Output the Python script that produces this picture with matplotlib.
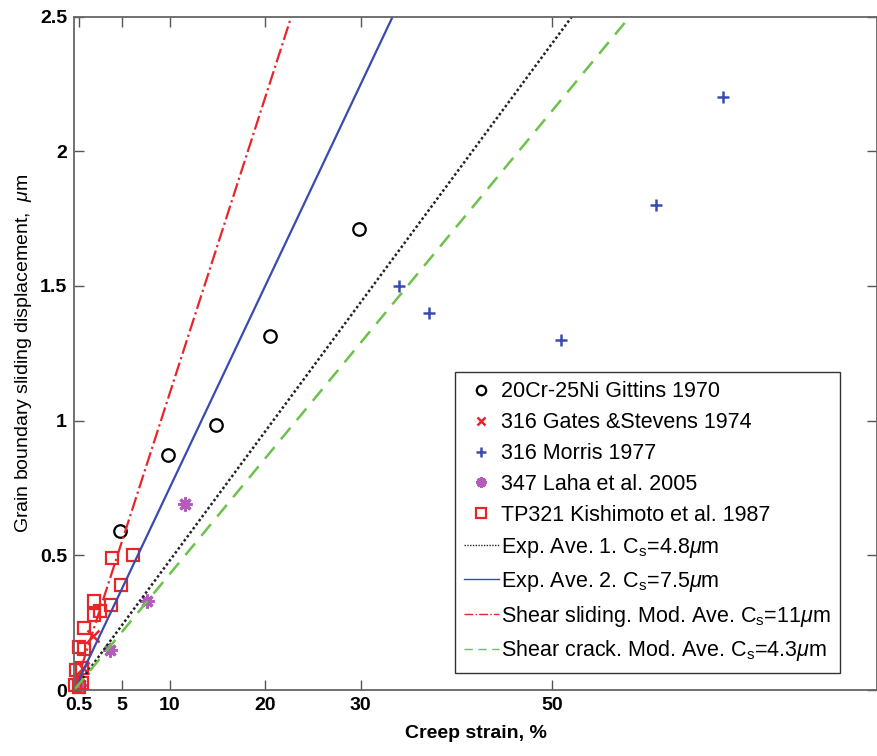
import numpy as np
import matplotlib.pyplot as plt

plt.rcParams['font.family'] = ['Liberation Sans', 'DejaVu Sans']
plt.rcParams['mathtext.fontset'] = 'custom'
plt.rcParams['mathtext.rm'] = 'Liberation Sans'
plt.rcParams['mathtext.it'] = 'Liberation Sans:italic'

# data (creep strain %, displacement um)
gittins_x = [4.84, 9.86, 14.9, 20.5, 29.8]
gittins_y = [0.59, 0.873, 0.984, 1.314, 1.712]

gates_x = [2.0, 0.9, 0.4]
gates_y = [0.2, 0.08, 0.02]

morris_x = [34.0, 37.1, 50.9, 60.9, 67.9, 0.5]
morris_y = [1.5, 1.4, 1.3, 1.8, 2.2, 0.03]

laha_x = [11.6, 7.6, 3.8, 0.6]
laha_y = [0.69, 0.33, 0.148, 0.02]

kishi_x = [4.0, 6.2, 4.9, 3.9, 2.1, 2.1, 2.7, 1.0, 0.55, 1.0, 0.25, 0.8, 0.15, 0.5, 0.85]
kishi_y = [0.49, 0.5, 0.39, 0.315, 0.33, 0.28, 0.295, 0.229, 0.161, 0.151, 0.074, 0.082, 0.019, 0.012, 0.026]

# model / average lines: slope = Cs/100
cs_exp1 = 4.8
cs_exp2 = 7.5
cs_shear_slide = 11
cs_shear_crack = 4.3
line_x = np.array([0, 84])

xticks = [0.5, 5, 10, 20, 30, 50]
xtick_labels = ['0.5', '5', '10', '20', '30', '50']
yticks = [0, 0.5, 1, 1.5, 2, 2.5]
ytick_labels = ['0', '0.5', '1', '1.5', '2', '2.5']

red = '#e8262a'
blue = '#3a4bb0'
magenta = '#b45cbc'
green = '#6cc24a'

fig = plt.figure(figsize=(8.78, 7.56), dpi=100)
ax = fig.add_axes([0.0843, 0.0873, 0.9146, 0.8907])

ms = 9
ax.plot(gittins_x, gittins_y, 'o', mfc='none', mec='black', ms=ms, mew=1.6,
        label='20Cr-25Ni Gittins 1970', clip_on=False)
ax.plot(gates_x, gates_y, 'x', color=red, ms=8, mew=1.8,
        label='316 Gates &Stevens 1974', clip_on=False)
ax.plot(morris_x, morris_y, '+', color=blue, ms=9, mew=1.8,
        label='316 Morris 1977', clip_on=False)
ax.plot(laha_x, laha_y, marker=(8, 2, 0), ls='none', color=magenta, ms=10, mew=2.2,
        label='347 Laha et al. 2005', clip_on=False)
ax.plot(kishi_x, kishi_y, 's', mfc='none', mec=red, ms=ms, mew=1.6,
        label='TP321 Kishimoto et al. 1987', clip_on=False)

ax.plot(line_x, cs_exp1 * line_x / 100, color='#222222', lw=1.8,
        dashes=(1, 1), label=r'Exp. Ave. 1. C$_\mathrm{s}$=4.8$\mu$m')
ax.plot(line_x, cs_exp2 * line_x / 100, '-', color=blue, lw=1.6,
        label=r'Exp. Ave. 2. C$_\mathrm{s}$=7.5$\mu$m')
ax.plot(line_x, cs_shear_slide * line_x / 100, '-.', color=red, lw=1.6,
        label=r'Shear sliding. Mod. Ave. C$_\mathrm{s}$=11$\mu$m')
ax.plot(line_x, cs_shear_crack * line_x / 100, '--', color=green, lw=1.8,
        dashes=(6, 4), label=r'Shear crack. Mod. Ave. C$_\mathrm{s}$=4.3$\mu$m')

ax.set_xlim(0, 84)
ax.set_ylim(0, 2.5)
ax.set_xticks(xticks)
ax.set_xticklabels(xtick_labels, fontsize=14, fontweight='bold')
ax.set_yticks(yticks)
ax.set_yticklabels(ytick_labels, fontsize=14, fontweight='bold')
ax.tick_params(direction='in', top=True, right=True, length=7, width=1,
               color='#555555', pad=5)
for s in ax.spines.values():
    s.set_color('#666666')
    s.set_linewidth(1.3)

ax.set_xlabel('Creep strain, %', fontsize=14, fontweight='bold', labelpad=8)
ax.set_ylabel(r'Grain boundary sliding displacement,  $\mu$m', fontsize=14,
              labelpad=4)

leg = ax.legend(loc='lower right', bbox_to_anchor=(0.954, 0.025), fontsize=15.5,
                frameon=True, fancybox=False, framealpha=1, edgecolor='#333333',
                handlelength=1.6, handletextpad=0.1, labelspacing=0.46,
                borderpad=0.45, borderaxespad=0, numpoints=1, markerscale=0.75)
leg.get_frame().set_linewidth(1.0)
for h in leg.get_lines():
    h.set_linewidth(1.0)

fig.savefig('out.png', dpi=100)
